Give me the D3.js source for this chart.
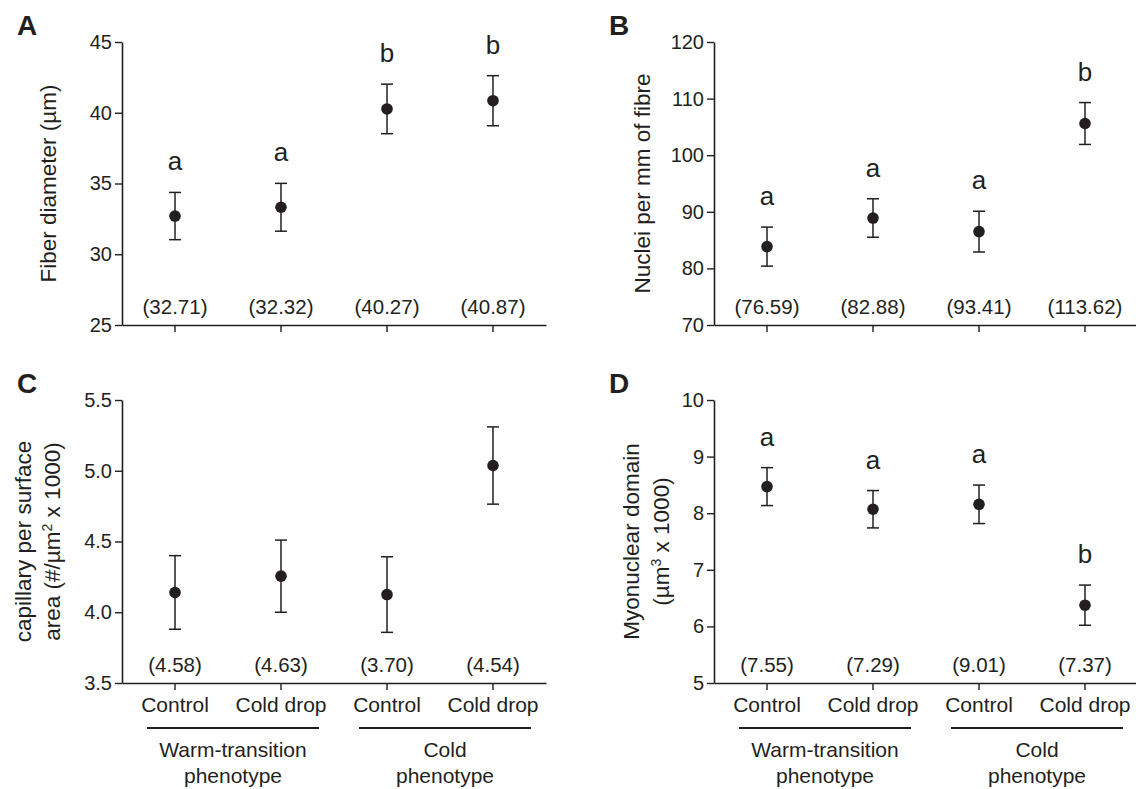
<!DOCTYPE html>
<html>
<head>
<meta charset="utf-8">
<script src="https://cdn.jsdelivr.net/npm/d3@7"></script>
<style>
  body { margin: 0; background: #fff; }
  svg { display: block; }
  text { font-family: "Liberation Sans", Arial, sans-serif; fill: #231f20; }
</style>
</head>
<body>
<script>
'use strict';

const groups = ['Control', 'Cold drop', 'Control', 'Cold drop'];
const phenotypes = [['Warm-transition', 'phenotype'], ['Cold', 'phenotype']];

const fiberMean = [32.70, 33.32, 40.27, 40.85];
const fiberSem = [1.67, 1.69, 1.75, 1.77];
const fiberN = ['(32.71)', '(32.32)', '(40.27)', '(40.87)'];
const fiberLetters = ['a', 'a', 'b', 'b'];
const fiberTicks = [25, 30, 35, 40, 45];

const nucleiMean = [83.85, 88.9, 86.5, 105.6];
const nucleiSem = [3.45, 3.4, 3.6, 3.7];
const nucleiN = ['(76.59)', '(82.88)', '(93.41)', '(113.62)'];
const nucleiLetters = ['a', 'a', 'a', 'b'];
const nucleiTicks = [70, 80, 90, 100, 110, 120];

const capMean = [4.14, 4.255, 4.125, 5.037];
const capSem = [0.26, 0.255, 0.267, 0.273];
const capN = ['(4.58)', '(4.63)', '(3.70)', '(4.54)'];
const capLetters = [];
const capTicks = [3.5, 4.0, 4.5, 5.0, 5.5];

const domainMean = [8.47, 8.07, 8.157, 6.375];
const domainSem = [0.335, 0.33, 0.34, 0.355];
const domainN = ['(7.55)', '(7.29)', '(9.01)', '(7.37)'];
const domainLetters = ['a', 'a', 'a', 'b'];
const domainTicks = [5, 6, 7, 8, 9, 10];

const ink = '#231f20';
const svg = d3.select('body').append('svg')
  .attr('width', 1136)
  .attr('height', 789);

drawPanel({
  letter: 'A', left: 122, top: 42, bottom: 325,
  mean: fiberMean, sem: fiberSem, n: fiberN, letters: fiberLetters,
  ticks: fiberTicks, fmt: d3.format('d'),
  title: [['Fiber diameter (µm)']], titleX: [56], labels: false
});

drawPanel({
  letter: 'B', left: 714, top: 42, bottom: 325,
  mean: nucleiMean, sem: nucleiSem, n: nucleiN, letters: nucleiLetters,
  ticks: nucleiTicks, fmt: d3.format('d'),
  title: [['Nuclei per mm of fibre']], titleX: [650], labels: false
});

drawPanel({
  letter: 'C', left: 122, top: 400, bottom: 683,
  mean: capMean, sem: capSem, n: capN, letters: capLetters,
  ticks: capTicks, fmt: d3.format('.1f'),
  title: [['capillary per surface'], ['area (#/µm', '2', ' x 1000)']],
  titleX: [31, 60], labels: true
});

drawPanel({
  letter: 'D', left: 714, top: 400, bottom: 683,
  mean: domainMean, sem: domainSem, n: domainN, letters: domainLetters,
  ticks: domainTicks, fmt: d3.format('d'),
  title: [['Myonuclear domain'], ['(µm', '3', ' x 1000)']],
  titleX: [639, 669], labels: true
});

function drawPanel(p) {
  const x = d3.scaleBand().domain(d3.range(groups.length)).range([p.left, p.left + 424]);
  const y = d3.scaleLinear().domain(d3.extent(p.ticks)).range([p.bottom, p.top]);
  const cx = function(i) { return x(i) + x.bandwidth() / 2; };
  const g = svg.append('g');

  g.append('text')
    .attr('x', p.left - 105)
    .attr('y', p.top - 7)
    .style('font-size', '28px')
    .style('font-weight', 'bold')
    .text(p.letter);

  const yAxis = g.append('g')
    .attr('transform', 'translate(' + p.left + ',0)')
    .call(d3.axisLeft(y).tickValues(p.ticks).tickFormat(p.fmt).tickSize(7).tickSizeOuter(0).tickPadding(3));

  const xAxis = g.append('g')
    .attr('transform', 'translate(0,' + p.bottom + ')')
    .call(d3.axisBottom(x).tickSize(7).tickSizeOuter(0).tickPadding(7)
      .tickFormat(function(i) { return p.labels ? groups[i] : ''; }));

  [yAxis, xAxis].forEach(function(a) {
    a.select('.domain').attr('stroke', ink).attr('stroke-width', 1.6);
    a.selectAll('.tick line').attr('stroke', ink).attr('stroke-width', 1.4);
    a.selectAll('.tick text').style('font-family', '"Liberation Sans", Arial, sans-serif').attr('fill', ink);
  });
  yAxis.selectAll('.tick text').style('font-size', '20px');
  xAxis.selectAll('.tick text').style('font-size', '21px');

  // y title, one text per line, rotated
  const midY = (p.top + p.bottom) / 2;
  p.title.forEach(function(parts, k) {
    const t = g.append('text')
      .attr('transform', 'translate(' + p.titleX[k] + ',' + midY + ') rotate(-90)')
      .attr('text-anchor', 'middle')
      .style('font-size', '22.5px');
    t.append('tspan').text(parts[0]);
    if (parts.length > 1) {
      t.append('tspan').attr('dy', -8).style('font-size', '14px').text(parts[1]);
      t.append('tspan').attr('dy', 8).text(parts[2]);
    }
  });

  const idx = d3.range(groups.length);

  const bars = g.selectAll('.err').data(idx).enter().append('g')
    .attr('stroke', ink)
    .attr('stroke-width', 1.5);
  bars.append('line')
    .attr('x1', cx).attr('x2', cx)
    .attr('y1', function(i) { return y(p.mean[i] - p.sem[i]); })
    .attr('y2', function(i) { return y(p.mean[i] + p.sem[i]); });
  bars.append('line')
    .attr('x1', function(i) { return cx(i) - 6; }).attr('x2', function(i) { return cx(i) + 6; })
    .attr('y1', function(i) { return y(p.mean[i] + p.sem[i]); })
    .attr('y2', function(i) { return y(p.mean[i] + p.sem[i]); });
  bars.append('line')
    .attr('x1', function(i) { return cx(i) - 6; }).attr('x2', function(i) { return cx(i) + 6; })
    .attr('y1', function(i) { return y(p.mean[i] - p.sem[i]); })
    .attr('y2', function(i) { return y(p.mean[i] - p.sem[i]); });

  g.selectAll('.dot').data(idx).enter().append('circle')
    .attr('cx', cx)
    .attr('cy', function(i) { return y(p.mean[i]); })
    .attr('r', 5.8)
    .attr('fill', ink);

  g.selectAll('.sig').data(p.letters).enter().append('text')
    .attr('x', function(d, i) { return cx(i); })
    .attr('y', function(d, i) { return y(p.mean[i] + p.sem[i]) - 22; })
    .attr('text-anchor', 'middle')
    .style('font-size', '26px')
    .text(function(d) { return d; });

  g.selectAll('.count').data(p.n).enter().append('text')
    .attr('x', function(d, i) { return cx(i); })
    .attr('y', p.bottom - 11)
    .attr('text-anchor', 'middle')
    .style('font-size', '20.5px')
    .text(function(d) { return d; });

  if (!p.labels) return;

  // phenotype brackets under the group pairs
  phenotypes.forEach(function(lines, k) {
    const mid = (cx(2 * k) + cx(2 * k + 1)) / 2 + 5;
    g.append('line')
      .attr('x1', mid - 86).attr('x2', mid + 86)
      .attr('y1', p.bottom + 45).attr('y2', p.bottom + 45)
      .attr('stroke', ink)
      .attr('stroke-width', 2);
    lines.forEach(function(line, j) {
      g.append('text')
        .attr('x', mid)
        .attr('y', p.bottom + 74 + j * 26)
        .attr('text-anchor', 'middle')
        .style('font-size', '21px')
        .text(line);
    });
  });
}
</script>
</body>
</html>
